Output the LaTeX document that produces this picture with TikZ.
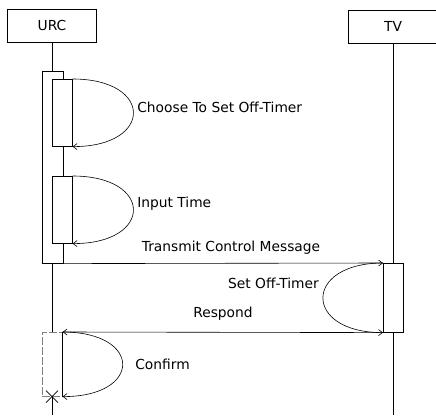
\documentclass[tikz,border=0pt]{standalone}
\usepackage{fontspec}
\setmainfont{DejaVu Sans}
\usetikzlibrary{arrows.meta}
\begin{document}
\begin{tikzpicture}[x=1pt,y=-1pt,line width=0.6pt,
  txt/.style={font=\fontsize{13.8}{15}\selectfont,inner sep=0pt},
  head/.style={draw,minimum width=89pt,minimum height=33pt,inner sep=0pt,font=\fontsize{13.8}{15}\selectfont},
  actbox/.style={draw,fill=white,inner sep=0pt,anchor=north west},
  msg/.style={-{Straight Barb[length=4pt,width=6pt]}}
]
\useasboundingbox (0,0) rectangle (436,415);
% headers
\node[head] (urc) at (52,25.5) {URC};
\node[head] (tv) at (393,26.5) {TV};
% URC activations
\node[actbox,minimum width=21pt,minimum height=192pt] (outer) at (41.5,71) {};
\node[actbox,minimum width=20pt,minimum height=67pt] (in1) at (52,79) {};
\node[actbox,minimum width=20pt,minimum height=67pt] (in2) at (52,176) {};
% TV activation
\node[actbox,minimum width=20pt,minimum height=69pt] (tvact) at (383,263) {};
% Confirm box
\node[actbox,draw=gray,dashed,dash pattern=on 8pt off 2pt,fill=none,minimum width=20.5pt,minimum height=64pt] (conf) at (41.5,332) {};
\draw (conf.north east) -- (conf.south east);
% lifelines
\draw (urc.south) -- (urc.south |- outer.north);
\draw (urc.south |- outer.south) -- (urc.south |- conf.north);
\coordinate (xmark) at (urc.south |- conf.south);
\coordinate (urcend) at (52,415);
\draw (xmark) -- (urcend);
\draw (tv.south) -- (tv.south |- tvact.north);
\coordinate (tvend) at (393,415);
\draw (tv.south |- tvact.south) -- (tvend);
% destruction
\draw ([shift={(-6,-6)}]xmark) -- ([shift={(6,6)}]xmark);
\draw ([shift={(-6,6)}]xmark) -- ([shift={(6,-6)}]xmark);
% self messages
\draw[msg] (in1.north east) .. controls +(81,0) and +(81,0) .. (in1.south east);
\node[txt,anchor=base west] (l1) at (137,112) {Choose To Set Off-Timer};
\draw[msg] (in2.north east) .. controls +(81,0) and +(81,0) .. (in2.south east);
\node[txt,anchor=base west] (l2) at (137,207) {Input Time};
% transmit
\draw[msg] (outer.south east) -- (tvact.north west);
\node[txt,anchor=base] (l3) at (231,251.5) {Transmit Control Message};
% set off-timer
\draw[msg] (tvact.north west) .. controls +(-80,0) and +(-80,0) .. (tvact.south west);
\node[txt,anchor=base east] (l4) at (319,288) {Set Off-Timer};
% respond
\draw[msg] (tvact.south west) -- (conf.north east);
\node[txt,anchor=base] (l5) at (223,317) {Respond};
% confirm
\draw[msg] (conf.north east) .. controls +(80,0) and +(80,0) .. (conf.south east);
\node[txt,anchor=base west] (l6) at (135,369) {Confirm};
\end{tikzpicture}
\end{document}
